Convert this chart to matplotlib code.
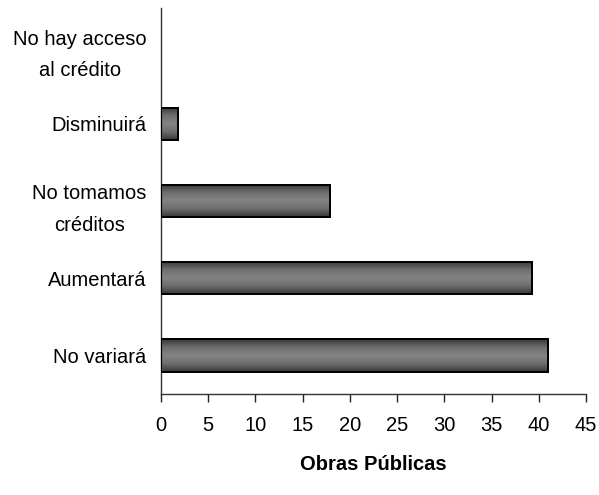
import matplotlib
matplotlib.use("Agg")
import matplotlib.pyplot as plt
import numpy as np
from matplotlib.colors import LinearSegmentedColormap

categories = ["No variará", "Aumentará", "No tomamos\ncréditos", "Disminuirá", "No hay acceso\nal crédito"]
values = [41.0, 39.3, 17.9, 1.8, 0.0]
xticks = [0, 5, 10, 15, 20, 25, 30, 35, 40, 45]
title = "Obras Públicas"

plt.rcParams['font.family'] = ['Liberation Sans', 'DejaVu Sans']

fig = plt.figure(figsize=(5.99, 4.95), dpi=100)
ax = fig.add_axes([0.2688, 0.204, 0.7095, 0.780])

y = np.arange(len(categories))
h = 0.42
bars = ax.barh(y, values, height=h, color="#666666", edgecolor="black", linewidth=1.4, zorder=2)

cmap = LinearSegmentedColormap.from_list("g", ["#383838", "#6e6e6e", "#848484", "#6e6e6e", "#383838"])
grad = np.linspace(0, 1, 64).reshape(-1, 1)
for b, v, yy in zip(bars, values, y):
    if v <= 0:
        b.set_visible(False)
        continue
    im = ax.imshow(grad, cmap=cmap, aspect="auto", extent=(0, v, yy - h / 2, yy + h / 2),
                   origin="lower", zorder=2.5, interpolation="bilinear")
    im.set_clip_path(b)
    ax.barh([yy], [v], height=h, color="none", edgecolor="black", linewidth=1.4, zorder=3)

ax.set_xlim(0, 45)
ax.set_ylim(-0.5, len(categories) - 0.5)
ax.set_xticks(xticks)
ax.set_xticklabels([str(t) for t in xticks], fontsize=14.5)
ax.set_yticks(y)
ax.set_yticklabels(categories, fontsize=14.5, linespacing=1.85)
for lab in ax.get_yticklabels():
    lab.set_horizontalalignment("right")
    lab.set_multialignment("center")
ax.tick_params(axis="y", length=0, pad=10.5)
ax.tick_params(axis="x", length=6, width=1, direction="out", pad=9.5, color="#222222")
for s in ["top", "right"]:
    ax.spines[s].set_visible(False)
for s in ["left", "bottom"]:
    ax.spines[s].set_color("#333333")
    ax.spines[s].set_linewidth(1.0)
ax.set_xlabel(title, fontsize=14.5, fontweight="bold", labelpad=15)

fig.savefig("out.png", dpi=100)
